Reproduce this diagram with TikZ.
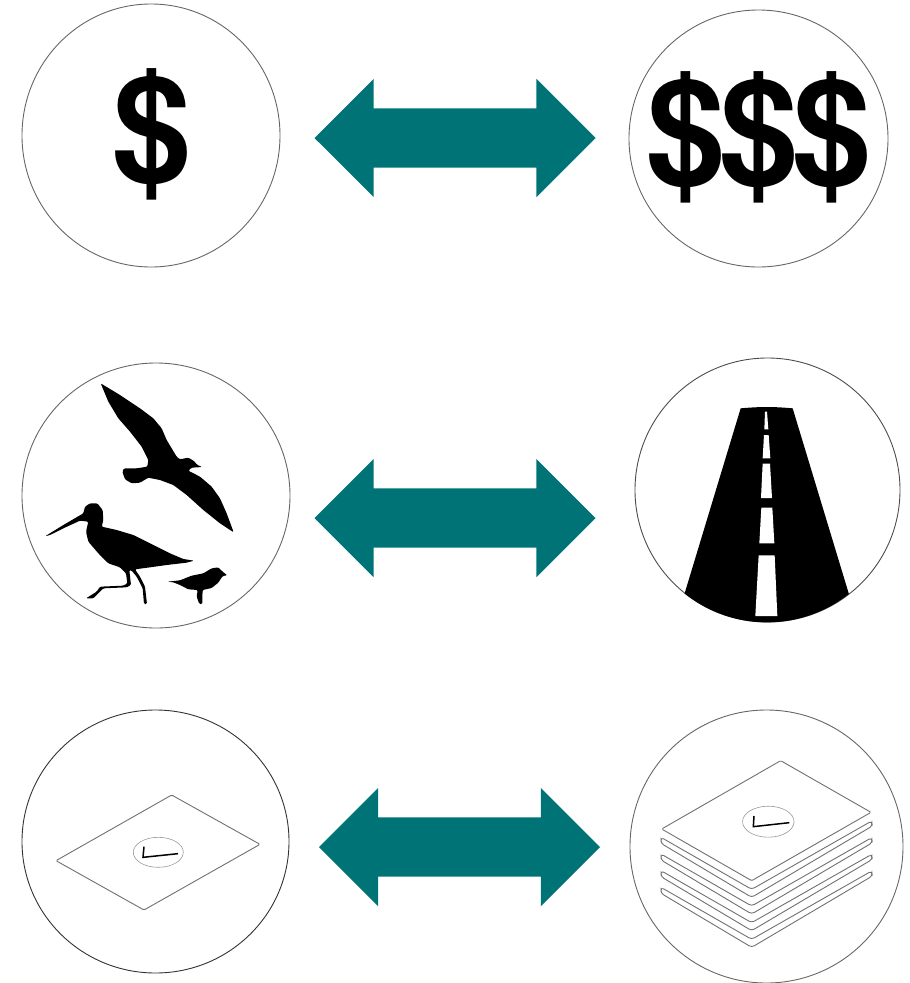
\documentclass[tikz,border=0pt]{standalone}
\usepackage{fontspec}
\setmainfont{TeX Gyre Heros}
\usepackage{xcolor}
\usetikzlibrary{shapes.geometric,shapes.arrows}
\definecolor{teal}{HTML}{007377}
\definecolor{rim}{HTML}{666666}
\definecolor{sheetline}{HTML}{707070}

\begin{document}
\begin{tikzpicture}[
				x=1pt,y=-1pt,
				ring/.style={ellipse,draw=rim,line width=0.9pt,inner sep=0pt,outer sep=0pt},
				swap/.style={double arrow,fill=teal,double arrow tip angle=90,double arrow head extend=29.5pt,
						inner xsep=0pt,inner ysep=29.5pt,outer sep=0pt,minimum height=281pt},
				cash/.style={inner sep=0pt,xscale=0.96,transform shape,font=\fontsize{148}{148}\selectfont\bfseries},
				silhouette/.style={fill=black,rounded corners=1.2pt},
				sheet/.style={draw=sheetline,line width=0.9pt,rounded corners=1.2pt},
				band/.style={draw=sheetline,line width=0.9pt,rounded corners=3pt},
				stamp/.style={ellipse,draw=black!40,line width=0.6pt,inner sep=0pt},
				tick/.style={draw=black,line width=1.5pt,line join=miter}]
				\useasboundingbox (0,0) rectangle (910,983);

				\node[ring,minimum width=258pt,minimum height=263pt] (budgetlow) at (151,135.5) {};
				\node[ring,minimum width=259pt,minimum height=257pt] (budgethigh) at (758.5,138.5) {};
				\node[ring,minimum width=268pt,minimum height=265pt] (birds) at (156,495.5) {};
				\node[ring,draw=black!70,minimum width=265pt,minimum height=264pt] (road) at (767.5,490) {};
				\node[ring,draw=black!80,minimum width=267pt,minimum height=263pt] (onedoc) at (155.5,841.5) {};
				\node[ring,minimum width=273pt,minimum height=273pt] (manydocs) at (766.5,846.5) {};

				\node[swap] (swaptop) at (455,138) {};
				\node[swap] (swapmid) at (455,518) {};
				\node[swap] (swapbot) at (459.5,847) {};

				\node[cash] (dollar) at (151.5,134) {\$};
				\node[cash] (dollars) at (759,137) {\$\kern-6pt\$\kern-6pt\$};

				% birds
				\begin{scope}[shift={(20,360)},scale=1/3]
					\fill[silhouette] (242,70) -- (300,105) -- (360,145) -- (400,175) -- (425,205) -- (440,240) -- (470,290)
						-- (480,298) -- (505,293) -- (522,303) -- (532,315) -- (547,321) -- (515,323) -- (505,332)
						-- (540,350) -- (575,380) -- (600,415) -- (620,460) -- (641,517) -- (600,490) -- (550,450)
						-- (500,405) -- (460,375) -- (420,360) -- (385,353) -- (360,368) -- (335,370) -- (315,358)
						-- (307,335) -- (312,325) -- (350,325) -- (382,320) -- (385,300) -- (365,260) -- (330,215)
						-- (295,175) -- (265,125) -- cycle;
					\fill[silhouette] (75,529) -- (130,495) -- (190,460) -- (195,440) -- (210,430) -- (232,430) -- (248,450)
						-- (250,480) -- (245,500) -- (290,510) -- (340,525) -- (400,555) -- (450,580) -- (490,597)
						-- (522,602) -- (500,608) -- (440,615) -- (390,622) -- (345,628) -- (360,650) -- (375,680)
						-- (381,732) -- (372,732) -- (368,685) -- (350,650) -- (335,632) -- (328,630) -- (333,675)
						-- (320,682) -- (250,685) -- (220,715) -- (198,715) -- (230,695) -- (240,680) -- (310,677)
						-- (322,670) -- (318,640) -- (300,622) -- (265,610) -- (235,580) -- (205,545) -- (198,515)
						-- (205,485) -- (180,482) -- (130,505) -- (90,525) -- cycle;
					\fill[silhouette] (442,665) -- (480,661) -- (515,647) -- (550,640) -- (575,625) -- (595,622) -- (608,635)
						-- (622,646) -- (608,648) -- (595,668) -- (575,684) -- (548,690) -- (547,710) -- (547,732)
						-- (538,732) -- (530,710) -- (533,690) -- (505,688) -- (480,675) -- (460,667) -- cycle;
				\end{scope}

				% road
				\begin{scope}[shift={(630,355)},scale=1/3]
					\begin{scope}
						\clip (411,406) circle (396);
						\fill[black] (332,160) to[bend left=5] (488,160) -- (700,860) -- (120,860) -- cycle;
					\end{scope}
					\fill[white] (405,170) -- (411,170) -- (415,223) -- (403,223) -- cycle;
					\fill[white] (402,240) -- (416,240) -- (421,310) -- (398,310) -- cycle;
					\fill[white] (398,326) -- (420,326) -- (426,429) -- (393,429) -- cycle;
					\fill[white] (394,458) -- (427,458) -- (433,565) -- (388,565) -- cycle;
					\fill[white] (386,601) -- (434,601) -- (442,783) -- (376,783) -- cycle;
				\end{scope}

				% single sheet
				\begin{scope}[shift={(20,700)},scale=1/3]
					\draw[sheet] (108,482) -- (455,285) -- (720,433) -- (372,630) -- cycle;
					\draw[tick] (372,440) -- (369,472) -- (474,461);
				\end{scope}
				\node[stamp,minimum width=50pt,minimum height=30pt] (stampone) at (158.3,852.3) {};

				% stack of sheets
				\begin{scope}[shift={(630,700)},scale=1/3]
					\draw[sheet] (95,387) -- (452,182) -- (723,337) -- (365,542) -- cycle;
					\draw[band] (93,412) -- (365,568) -- (725,363) -- (727,378) -- (365,592) -- (93,430) -- cycle;
					\draw[band,shift={(0,50)}] (93,412) -- (365,568) -- (725,363) -- (727,378) -- (365,592) -- (93,430) -- cycle;
					\draw[band,shift={(0,100)}] (93,412) -- (365,568) -- (725,363) -- (727,378) -- (365,592) -- (93,430) -- cycle;
					\draw[band,shift={(0,150)}] (93,412) -- (365,568) -- (725,363) -- (727,378) -- (365,592) -- (93,430) -- cycle;
					\draw[tick] (372,348) -- (370,380) -- (478,368);
				\end{scope}
				\node[stamp,minimum width=51.5pt,minimum height=31pt] (stampmany) at (768.3,821.7) {};
			\end{tikzpicture}
\end{document}
